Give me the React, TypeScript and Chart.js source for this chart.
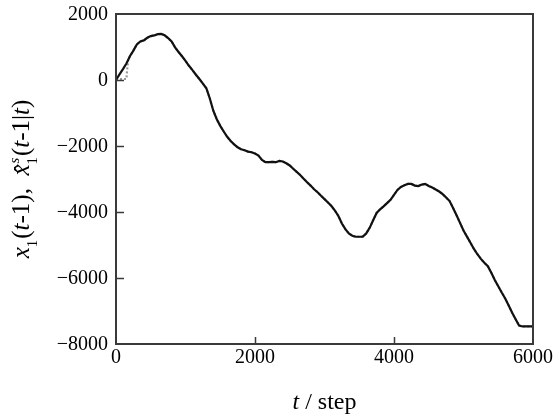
import React, { useEffect, useRef } from "react";
import { Chart, registerables, Plugin } from "chart.js";

Chart.register(...registerables);

// Time step t and the state x1(t-1) along the trajectory
const steps = [
  0, 50, 100, 150, 200, 250, 300, 350, 400, 450, 500, 550, 600, 650, 700, 750,
  800, 850, 900, 950, 1000, 1050, 1100, 1150, 1200, 1250, 1300, 1350, 1400,
  1450, 1500, 1550, 1600, 1650, 1700, 1750, 1800, 1850, 1900, 1950, 2000, 2050,
  2100, 2150, 2200, 2250, 2300, 2350, 2400, 2450, 2500, 2550, 2600, 2650, 2700,
  2750, 2800, 2850, 2900, 2950, 3000, 3050, 3100, 3150, 3200, 3250, 3300, 3350,
  3400, 3450, 3500, 3550, 3600, 3650, 3700, 3750, 3800, 3850, 3900, 3950, 4000,
  4050, 4100, 4150, 4200, 4250, 4300, 4350, 4400, 4450, 4500, 4550, 4600, 4650,
  4700, 4750, 4800, 4850, 4900, 4950, 5000, 5050, 5100, 5150, 5200, 5250, 5300,
  5350, 5400, 5450, 5500, 5550, 5600, 5650, 5700, 5750, 5800, 5850, 5900, 5950,
  6000,
];
const x1Values = [
  0, 170, 330, 500, 720, 890, 1080, 1170, 1200, 1280, 1330, 1350, 1390, 1395,
  1355, 1270, 1165, 990, 850, 720, 580, 430, 300, 160, 30, -110, -250, -560,
  -930, -1190, -1390, -1560, -1720, -1850, -1950, -2040, -2100, -2130, -2170,
  -2190, -2230, -2290, -2420, -2490, -2490, -2480, -2490, -2450, -2470, -2525,
  -2590, -2690, -2783, -2880, -2990, -3100, -3200, -3310, -3400, -3510, -3610,
  -3711, -3820, -3960, -4120, -4350, -4520, -4650, -4720, -4750, -4750, -4745,
  -4650, -4480, -4250, -4030, -3920, -3830, -3730, -3630, -3480, -3330, -3240,
  -3190, -3150, -3150, -3200, -3215, -3170, -3150, -3210, -3260, -3320, -3380,
  -3460, -3560, -3670, -3880, -4100, -4330, -4560, -4745, -4930, -5120, -5280,
  -5420, -5540, -5640, -5840, -6060, -6250, -6440, -6620, -6830, -7050, -7250,
  -7440, -7468, -7468, -7468, -7468,
];

// Smoothed estimate x̂ˢ₁(t-1|t): differs from the state only at the very start
const estStartSteps = [0, 150, 160, 175];
const estStartValues = [30, 30, 300, 600];

const xTicks = [0, 2000, 4000, 6000];
const yTicks = [2000, 0, -2000, -4000, -6000, -8000];

const FONT = "'Liberation Serif', 'Times New Roman', serif";

const fmt = (v: number) => (v < 0 ? "\u2212" + Math.abs(v) : String(v));

type Seg = { t: string; it?: boolean; pos?: "sub" | "stack"; hat?: boolean; sup?: string };

const yTitle: Seg[] = [
  { t: "x", it: true },
  { t: "1", pos: "sub" },
  { t: "(" },
  { t: "t", it: true },
  { t: "-1),  " },
  { t: "x", it: true, hat: true },
  { t: "1", pos: "stack", sup: "s" },
  { t: "(" },
  { t: "t", it: true },
  { t: "-1|" },
  { t: "t", it: true },
  { t: ")" },
];

function drawRich(ctx: CanvasRenderingContext2D, segs: Seg[], size: number) {
  const small = Math.round(size * 0.6);
  const fontOf = (it: boolean | undefined, s: number) =>
    `${it ? "italic " : ""}${s}px ${FONT}`;
  const widthOf = (sg: Seg) => {
    if (sg.pos) {
      ctx.font = fontOf(false, small);
      const w1 = ctx.measureText(sg.t).width;
      let w2 = 0;
      if (sg.sup) {
        ctx.font = fontOf(true, small);
        w2 = ctx.measureText(sg.sup).width;
      }
      return Math.max(w1, w2) + 1;
    }
    ctx.font = fontOf(sg.it, size);
    return ctx.measureText(sg.t).width;
  };
  const total = segs.reduce((a, s) => a + widthOf(s), 0);
  let x = -total / 2;
  ctx.textBaseline = "alphabetic";
  ctx.textAlign = "left";
  for (const sg of segs) {
    const w = widthOf(sg);
    if (sg.pos) {
      ctx.font = fontOf(false, small);
      ctx.fillText(sg.t, x, size * 0.3);
      if (sg.sup) {
        ctx.font = fontOf(true, small);
        ctx.fillText(sg.sup, x + 1, -size * 0.4);
      }
    } else {
      ctx.font = fontOf(sg.it, size);
      ctx.fillText(sg.t, x, 0);
      if (sg.hat) {
        ctx.font = `${size}px ${FONT}`;
        const hw = ctx.measureText("\u02C6").width;
        ctx.fillText("\u02C6", x + w / 2 - hw / 2 + 1.5, size * 0.12);
      }
    }
    x += w;
  }
}

const framePlugin: Plugin = {
  id: "frameAndTitles",
  afterDatasetsDraw(chart) {
    const { ctx, chartArea: a, scales } = chart;
    const xs = scales.x;
    const ys = scales.y;
    ctx.save();
    ctx.strokeStyle = "#3a3a3a";
    ctx.lineWidth = 2;
    ctx.strokeRect(a.left, a.top, a.right - a.left, a.bottom - a.top);
    ctx.lineWidth = 1.5;
    ctx.beginPath();
    for (const v of xTicks.slice(1, -1)) {
      const px = Math.round(xs.getPixelForValue(v)) + 0.5;
      ctx.moveTo(px, a.bottom);
      ctx.lineTo(px, a.bottom - 7);
    }
    for (const v of yTicks.slice(1, -1)) {
      const py = Math.round(ys.getPixelForValue(v)) + 0.5;
      ctx.moveTo(a.left, py);
      ctx.lineTo(a.left + 8, py);
    }
    ctx.stroke();

    // tick labels
    ctx.fillStyle = "#000";
    ctx.font = `20px ${FONT}`;
    ctx.textAlign = "center";
    ctx.textBaseline = "top";
    for (const v of xTicks) {
      ctx.fillText(fmt(v), xs.getPixelForValue(v), a.bottom + 4);
    }
    ctx.textAlign = "right";
    ctx.textBaseline = "middle";
    for (const v of yTicks) {
      ctx.fillText(fmt(v), a.left - 8, ys.getPixelForValue(v) + 1);
    }

    // x axis title: "t / step"
    const cx = (a.left + a.right) / 2;
    ctx.textBaseline = "alphabetic";
    ctx.font = `italic 24px ${FONT}`;
    const tw = ctx.measureText("t").width;
    ctx.font = `24px ${FONT}`;
    const rw = ctx.measureText(" / step").width;
    const x0 = cx - (tw + rw) / 2;
    ctx.font = `italic 24px ${FONT}`;
    ctx.textAlign = "left";
    ctx.fillText("t", x0, 409);
    ctx.font = `24px ${FONT}`;
    ctx.fillText(" / step", x0 + tw, 409);

    // y axis title, rotated
    ctx.translate(29, (a.top + a.bottom) / 2);
    ctx.rotate(-Math.PI / 2);
    drawRich(ctx, yTitle, 25);
    ctx.restore();
  },
};

export default function App() {
  const ref = useRef<HTMLCanvasElement | null>(null);

  useEffect(() => {
    if (!ref.current) return;
    const main = steps.map((t, i) => ({ x: t, y: x1Values[i] }));
    const est = [
      ...estStartSteps.map((t, i) => ({ x: t, y: estStartValues[i] })),
      ...main.filter((p) => p.x >= 200),
    ];
    const chart = new Chart(ref.current, {
      type: "line",
      data: {
        datasets: [
          {
            label: "x1(t-1)",
            data: main,
            borderColor: "#111",
            borderWidth: 2.2,
            pointRadius: 0,
            tension: 0,
          },
          {
            label: "x1s(t-1|t)",
            data: est,
            borderColor: "#999",
            borderWidth: 2.2,
            borderDash: [2, 2],
            pointRadius: 0,
            tension: 0,
          },
        ],
      },
      options: {
        responsive: false,
        animation: false,
        devicePixelRatio: 1,
        layout: { padding: { top: 14, right: 21, left: 0, bottom: 0 } },
        plugins: { legend: { display: false }, tooltip: { enabled: false } },
        scales: {
          x: {
            type: "linear",
            min: 0,
            max: 6000,
            afterBuildTicks: (s: any) => {
              s.ticks = xTicks.map((v) => ({ value: v }));
            },
            afterFit: (s: any) => {
              s.height = 74;
            },
            grid: { display: false, drawTicks: false },
            border: { display: false },
            ticks: { display: false },
          },
          y: {
            type: "linear",
            min: -8000,
            max: 2000,
            afterBuildTicks: (s: any) => {
              s.ticks = yTicks.map((v) => ({ value: v }));
            },
            afterFit: (s: any) => {
              s.width = 116;
            },
            grid: { display: false, drawTicks: false },
            border: { display: false },
            ticks: { display: false },
          },
        },
      },
      plugins: [framePlugin],
    });
    return () => chart.destroy();
  }, []);

  return (
    <div style={{ position: "fixed", left: 0, top: 0, width: 554, height: 418, background: "#fff" }}>
      <canvas ref={ref} width={554} height={418} />
    </div>
  );
}
